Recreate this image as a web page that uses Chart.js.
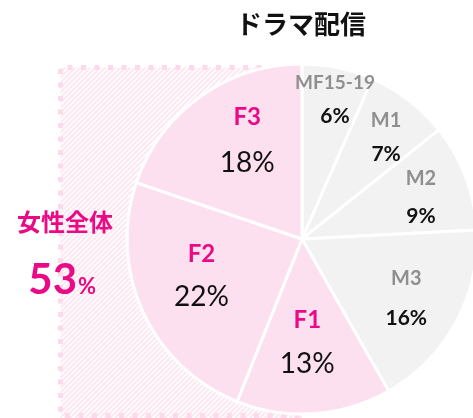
<!DOCTYPE html>
<html>
<head>
<meta charset="utf-8">
<script src="https://cdn.jsdelivr.net/npm/chart.js@4/dist/chart.umd.min.js"></script>
<style>
  html, body { margin: 0; padding: 0; background: #fff; overflow: hidden; }
  #wrap { position: relative; width: 473px; height: 418px; overflow: hidden; }
  #c { position: absolute; left: 0; top: 0; }
</style>
</head>
<body>
<div id="wrap"><canvas id="c" width="604" height="478"></canvas></div>
<script>
// ---- data ----
const chartTitle = 'ドラマ配信';
const categories = ['MF15-19', 'M1', 'M2', 'M3', 'F1', 'F2', 'F3'];
const shares = [6, 7, 9, 16, 13, 22, 18];
const groups = ['M', 'M', 'M', 'M', 'F', 'F', 'F'];
const groupLabel = '女性全体';
const groupShare = 53;

// ---- styles / layout ----
const COLOR_F = '#fde0ef';
const COLOR_M = '#f2f2f2';
const TEXT_F = '#ea0a86';
const TEXT_M = '#8f8f8f';
const LATIN = "Lato, 'Noto Sans', sans-serif";
const CJK = "'Noto Sans CJK JP', sans-serif";
// label placement per slice: radius (px), angular shift (deg), gap between name & value, sizes
const labelLayout = [
  { r: 143, dA: 1.5, gap: 33, nameSize: 19, valSize: 21, valWeight: 'bold' },
  { r: 132, dA: 2, gap: 33, nameSize: 20, valSize: 21, valWeight: 'bold' },
  { r: 126, dA: 1.5, gap: 38, nameSize: 20, valSize: 21, valWeight: 'bold' },
  { r: 120, dA: 1, gap: 40, nameSize: 20, valSize: 21, valWeight: 'bold' },
  { r: 103, dA: 1, gap: 44, nameSize: 24, valSize: 28, valWeight: 'normal' },
  { r: 107, dA: 4.7, gap: 43, nameSize: 24, valSize: 28, valWeight: 'normal' },
  { r: 113, dA: 6.6, gap: 46, nameSize: 24, valSize: 28, valWeight: 'normal' }
];

const hatchPlugin = {
  id: 'hatch',
  beforeDatasetsDraw(chart) {
    const ctx = chart.ctx;
    const meta = chart.getDatasetMeta(0);
    const cx = meta.data[0].x;
    const x0 = 60.5, y0 = 67.5, x1 = cx, y1 = 415.5;
    ctx.save();
    ctx.beginPath();
    ctx.rect(x0, y0, x1 - x0, y1 - y0 + 10);
    ctx.clip();
    ctx.strokeStyle = '#fde8f2';
    ctx.lineWidth = 2;
    const h = y1 - y0 + 20;
    for (let k = x0 - h; k < x1 + 10; k += 5) {
      ctx.beginPath();
      ctx.moveTo(k, y1 + 10);
      ctx.lineTo(k + h, y1 + 10 - h);
      ctx.stroke();
    }
    ctx.restore();
    ctx.save();
    ctx.strokeStyle = '#fcd9eb';
    ctx.lineWidth = 5;
    ctx.setLineDash([5, 8.5]);
    ctx.beginPath();
    ctx.moveTo(x1, y0);
    ctx.lineTo(x0, y0);
    ctx.lineTo(x0, y1);
    ctx.lineTo(x1, y1);
    ctx.stroke();
    ctx.restore();
  }
};

const labelPlugin = {
  id: 'labels',
  afterDatasetsDraw(chart) {
    const ctx = chart.ctx;
    const meta = chart.getDatasetMeta(0);
    const data = chart.data.datasets[0].data;
    ctx.save();
    ctx.textAlign = 'center';
    ctx.textBaseline = 'middle';
    meta.data.forEach((arc, i) => {
      const L = labelLayout[i];
      const mid = (arc.startAngle + arc.endAngle) / 2 + L.dA * Math.PI / 180;
      const x = arc.x + Math.cos(mid) * L.r;
      const y = arc.y + Math.sin(mid) * L.r;
      ctx.fillStyle = groups[i] === 'F' ? TEXT_F : TEXT_M;
      ctx.font = `bold ${L.nameSize}px ${LATIN}`;
      ctx.fillText(chart.data.labels[i], x, y - L.gap / 2);
      ctx.fillStyle = '#111';
      ctx.font = `${L.valWeight} ${L.valSize}px ${LATIN}`;
      ctx.fillText(data[i] + '%', x, y + L.gap / 2);
    });
    ctx.fillStyle = '#111';
    ctx.font = `bold 26px ${CJK}`;
    ctx.fillText(chartTitle, 301, 24);
    ctx.fillStyle = TEXT_F;
    ctx.font = `bold 24px ${CJK}`;
    ctx.fillText(groupLabel, 65, 222);
    ctx.textBaseline = 'alphabetic';
    ctx.textAlign = 'right';
    ctx.font = `bold 42px ${LATIN}`;
    ctx.fillText(String(groupShare), 77, 294);
    ctx.textAlign = 'left';
    ctx.font = `bold 22px ${LATIN}`;
    ctx.fillText('%', 78, 294);
    ctx.restore();
  }
};

new Chart(document.getElementById('c'), {
  type: 'pie',
  data: {
    labels: categories,
    datasets: [{
      data: shares,
      backgroundColor: groups.map(g => g === 'F' ? COLOR_F : COLOR_M),
      borderColor: '#ffffff',
      borderWidth: 3,
      radius: 175
    }]
  },
  options: {
    responsive: false,
    devicePixelRatio: 1,
    animation: false,
    layout: { padding: 0 },
    plugins: {
      legend: { display: false },
      tooltip: { enabled: false },
      title: { display: false }
    }
  },
  plugins: [hatchPlugin, labelPlugin]
});
</script>
</body>
</html>
